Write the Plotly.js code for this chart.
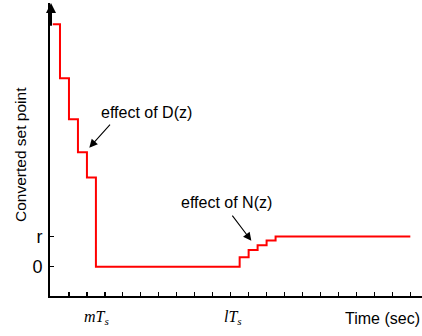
<!DOCTYPE html>
<html><head><meta charset="utf-8">
<script src="https://cdn.plot.ly/plotly-3.0.1.min.js"></script>
<style>html,body{margin:0;padding:0;background:#fff}</style>
</head><body><div id="chart" style="width:422px;height:336px"></div>
<script>
// ---- data ----
const timeSteps = [0.1, 0.5, 1.0, 1.5, 2.0, 2.5, 10.5, 11.0, 11.5, 12.0, 12.5, 20.0];
const setPoint  = [8.03, 6.24, 4.88, 3.79, 2.95, 0, 0.31, 0.55, 0.71, 0.87, 1, 1];
const xTickVals = [1,2,3,4,5,6,7,8,9,10,11,12,13,14,15,16,17,18,19,20];
const yTickVals = [0, 1];
const yTickText = ['0', 'r'];
const timeLabelX = [2.55, 10.15];
const timeLabelText = ['<i>mT</i><sub><i>s</i></sub>', '<i>lT</i><sub><i>s</i></sub>'];
const noteText  = ['effect of D(z)', 'effect of N(z)'];
const noteTextX = [5.33, 9.76];
const noteTextY = [5.10, 2.12];
const noteTipX  = [2.13, 11.15];
const noteTipY  = [3.94, 0.86];
const noteTailX = [3.36, 10.03];
const noteTailY = [4.75, 1.74];
const yTitle = 'Converted set point';
const xTitle = 'Time (sec)';
const xRange = [-0.056, 20.65];
const yRange = [-0.97, 8.73];

const font = "'Liberation Sans', Arial, sans-serif";
const serif = "'Liberation Serif', 'Times New Roman', serif";
const annotations = [];
noteText.forEach((t, i) => {
  annotations.push({x: noteTextX[i], y: noteTextY[i], xref:'x', yref:'y', text: t, showarrow:false,
    font:{family:font, size:16, color:'#000'}, xanchor:'center', yanchor:'middle'});
  annotations.push({x: noteTipX[i], y: noteTipY[i], ax: noteTailX[i], ay: noteTailY[i],
    xref:'x', yref:'y', axref:'x', ayref:'y', text:'', showarrow:true,
    arrowhead:2, arrowsize:1.5, arrowwidth:1.1, arrowcolor:'#000', standoff:0});
});
timeLabelText.forEach((t, i) => {
  annotations.push({x: timeLabelX[i], y: -0.074, xref:'x', yref:'paper', text: t, showarrow:false,
    font:{family:serif, size:16, color:'#000'}, xanchor:'center', yanchor:'middle'});
});
annotations.push({x: 1, y: -0.078, xref:'paper', yref:'paper', text: xTitle, showarrow:false,
  font:{family:font, size:16, color:'#000'}, xanchor:'right', yanchor:'middle'});
annotations.push({x: 0, xshift: -29.5, y: 0.483, xref:'paper', yref:'paper', text: yTitle, showarrow:false,
  textangle:-90, font:{family:font, size:15.5, color:'#000'}, xanchor:'center', yanchor:'middle'});
// axis arrowheads
annotations.push({x: 0, y: yRange[1], ax: 0, ay: yRange[1]-0.8, xref:'x', yref:'y', axref:'x', ayref:'y',
  text:'', showarrow:true, arrowhead:2, arrowsize:1, arrowwidth:2, arrowcolor:'#000', standoff:0});
annotations.push({x: xRange[1], y: yRange[0]-0.033, ax: xRange[1]-1, ay: yRange[0]-0.033, xref:'x', yref:'y', axref:'x', ayref:'y',
  text:'', showarrow:true, arrowhead:2, arrowsize:1, arrowwidth:2, arrowcolor:'#000', standoff:0});

const trace = {x: timeSteps, y: setPoint, type:'scatter', mode:'lines',
  line:{shape:'hv', color:'#ff0000', width:2}, hoverinfo:'skip'};

const layout = {
  width:422, height:336,
  margin:{l:50, r:0, t:3, b:40},
  paper_bgcolor:'#fff', plot_bgcolor:'#fff',
  showlegend:false,
  font:{family:font, color:'#000'},
  xaxis:{range:xRange, showline:true, linecolor:'#000', linewidth:2, ticks:'inside',
    tickvals:xTickVals, ticklen:4, tickwidth:1.2, tickcolor:'#000', showticklabels:false,
    showgrid:false, zeroline:false, fixedrange:true},
  yaxis:{range:yRange, showline:true, linecolor:'#000', linewidth:2, ticks:'inside',
    tickvals:yTickVals, ticktext:yTickText, ticklen:4, tickwidth:1.2, tickcolor:'#000',
    tickfont:{family:font, size:18, color:'#000'}, ticklabelstandoff:2,
    showgrid:false, zeroline:false, fixedrange:true},
  annotations: annotations
};
Plotly.newPlot('chart', [trace], layout, {displayModeBar:false, staticPlot:true});
</script></body></html>
